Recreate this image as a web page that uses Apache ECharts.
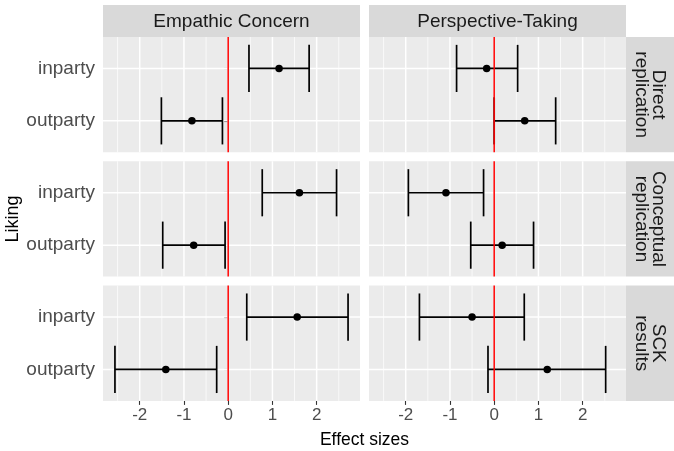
<!DOCTYPE html>
<html>
<head>
<meta charset="utf-8">
<script src="https://cdn.jsdelivr.net/npm/echarts@6/dist/echarts.min.js"></script>
<style>html,body{margin:0;padding:0;background:#fff}#c{width:674px;height:451px}</style>
</head>
<body>
<div id="c"></div>
<script>
// ---- data ----
const columns = ['Empathic Concern', 'Perspective-Taking'];
const rows = ['Direct\nreplication', 'Conceptual\nreplication', 'SCK\nresults'];
const groups = ['inparty', 'outparty'];
const xTicks = [-2, -1, 0, 1, 2];
const xMinor = [-2.5, -1.5, -0.5, 0.5, 1.5, 2.5];
const refLine = [0];
// [row][group]
const ecEst = [[1.15, -0.82], [1.61, -0.78], [1.56, -1.41]];
const ecLo  = [[0.47, -1.51], [0.77, -1.48], [0.42, -2.56]];
const ecHi  = [[1.83, -0.13], [2.45, -0.07], [2.71, -0.26]];
const ptEst = [[-0.17, 0.69], [-1.09, 0.18], [-0.50, 1.20]];
const ptLo  = [[-0.85, 0.00], [-1.94, -0.53], [-1.69, -0.14]];
const ptHi  = [[0.53, 1.39], [-0.24, 0.89], [0.68, 2.52]];

// ---- layout ----
const X_MIN = -2.83, X_MAX = 2.98, Y_MIN = 0.4, Y_MAX = 2.6;
const colLeft = [103, 369], panelW = 257;
const rowTop = [37, 161.3, 285.6], panelH = 115.3;
const est = [ecEst, ptEst], lo = [ecLo, ptLo], hi = [ecHi, ptHi];

const chart = echarts.init(document.getElementById('c'), null, {renderer: 'canvas'});
const grid = [], xAxis = [], yAxis = [], series = [], graphic = [];

function lineShape(a, b) { return {x1: a[0], y1: a[1], x2: b[0], y2: b[1]}; }

for (let r = 0; r < 3; r++) {
  for (let c = 0; c < 2; c++) {
    const gi = r * 2 + c;
    grid.push({left: colLeft[c], top: rowTop[r], width: panelW, height: panelH,
      show: true, backgroundColor: '#ebebeb', borderWidth: 0, outerBoundsMode: 'none'});
    const bottom = r === 2, leftCol = c === 0;
    xAxis.push({type: 'value', gridIndex: gi, min: X_MIN, max: X_MAX,
      axisLine: {show: false},
      axisTick: {show: bottom, length: 4, customValues: xTicks, lineStyle: {color: '#333', width: 1.1}},
      axisLabel: {show: bottom, customValues: xTicks, fontSize: 17, color: '#4d4d4d', margin: 6,
        fontFamily: 'Liberation Sans, Arial, sans-serif'},
      splitLine: {show: false}});
    yAxis.push({type: 'value', gridIndex: gi, min: Y_MIN, max: Y_MAX, inverse: true,
      axisLine: {show: false},
      axisTick: {show: leftCol, length: 4, customValues: [1, 2], lineStyle: {color: '#333', width: 1.1}},
      axisLabel: {show: leftCol, customValues: [1, 2], fontSize: 19, color: '#4d4d4d', margin: 8,
        fontFamily: 'Liberation Sans, Arial, sans-serif',
        formatter: v => groups[Math.round(v) - 1] || ''},
      splitLine: {show: false}});

    // gridlines
    const gl = [];
    xMinor.forEach(v => gl.push([v, 1]));
    xTicks.forEach(v => gl.push([v, 0]));
    groups.forEach((g, i) => gl.push([i + 1, 2]));
    series.push({type: 'custom', xAxisIndex: gi, yAxisIndex: gi, z: 1, silent: true,
      data: gl,
      renderItem: (params, api) => {
        const v = api.value(0), k = api.value(1);
        let a, b;
        if (k === 2) { a = api.coord([X_MIN, v]); b = api.coord([X_MAX, v]); }
        else { a = api.coord([v, Y_MIN]); b = api.coord([v, Y_MAX]); }
        return {type: 'line', shape: lineShape(a, b),
          style: {stroke: '#ffffff', lineWidth: k === 1 ? 0.7 : 1.5}};
      }});

    // error bars
    const eb = groups.map((g, i) => [lo[c][r][i], i + 1, hi[c][r][i]]);
    series.push({type: 'custom', xAxisIndex: gi, yAxisIndex: gi, z: 3, silent: true,
      data: eb,
      renderItem: (params, api) => {
        const y = api.value(1);
        const a = api.coord([api.value(0), y]), b = api.coord([api.value(2), y]);
        const h = api.size([0, 0.45])[1];
        const st = {stroke: '#000', lineWidth: 1.7};
        return {type: 'group', children: [
          {type: 'line', shape: lineShape(a, b), style: st},
          {type: 'line', shape: {x1: a[0], y1: a[1] - h, x2: a[0], y2: a[1] + h}, style: st},
          {type: 'line', shape: {x1: b[0], y1: b[1] - h, x2: b[0], y2: b[1] + h}, style: st}
        ]};
      }});

    // points
    series.push({type: 'scatter', xAxisIndex: gi, yAxisIndex: gi, z: 4, silent: true,
      symbol: 'circle', symbolSize: 7.5, itemStyle: {color: '#000', opacity: 1},
      data: groups.map((g, i) => [est[c][r][i], i + 1])});

    // red reference line
    series.push({type: 'custom', xAxisIndex: gi, yAxisIndex: gi, z: 5, silent: true,
      data: refLine.map(v => [v]),
      renderItem: (params, api) => {
        const v = api.value(0);
        return {type: 'line', shape: lineShape(api.coord([v, Y_MIN]), api.coord([v, Y_MAX])),
          style: {stroke: '#ff0000', lineWidth: 1.5}};
      }});
  }
}

// strips
const FF = 'Liberation Sans, Arial, sans-serif';
columns.forEach((name, c) => {
  graphic.push({type: 'rect', left: colLeft[c], top: 5, shape: {width: panelW, height: 32},
    style: {fill: '#d9d9d9'}, silent: true});
  graphic.push({type: 'text', x: colLeft[c] + panelW / 2, y: 21.5,
    style: {text: name, fontSize: 19, fill: '#1a1a1a', fontFamily: FF, align: 'center', verticalAlign: 'middle'},
    silent: true});
});
rows.forEach((name, r) => {
  graphic.push({type: 'rect', left: 626, top: rowTop[r], shape: {width: 48, height: panelH},
    style: {fill: '#d9d9d9'}, silent: true});
  graphic.push({type: 'text', x: 649.5, y: rowTop[r] + panelH / 2, rotation: -Math.PI / 2,
    style: {text: name, fontSize: 19, lineHeight: 17, fill: '#1a1a1a', fontFamily: FF, align: 'center', verticalAlign: 'middle'},
    silent: true});
});
// axis titles
graphic.push({type: 'text', x: 364.5, y: 440,
  style: {text: 'Effect sizes', fontSize: 17.5, fill: '#000', fontFamily: FF, align: 'center', verticalAlign: 'middle'},
  silent: true});
graphic.push({type: 'text', x: 13, y: 219, rotation: Math.PI / 2,
  style: {text: 'Liking', fontSize: 18, fill: '#000', fontFamily: FF, align: 'center', verticalAlign: 'middle'},
  silent: true});

chart.setOption({animation: false, backgroundColor: '#ffffff', grid, xAxis, yAxis, series, graphic});
</script>
</body>
</html>
